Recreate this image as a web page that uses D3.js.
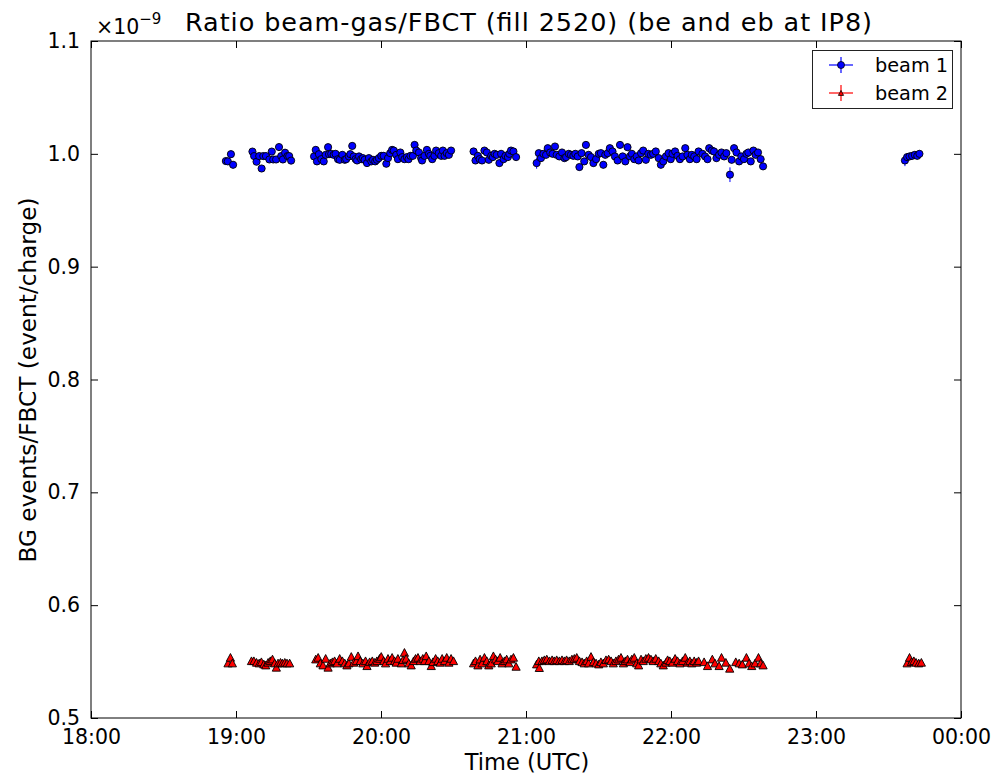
<!DOCTYPE html>
<html>
<head>
<meta charset="utf-8">
<script src="https://cdn.jsdelivr.net/npm/d3@7"></script>
<style>
  body { margin: 0; background: #fff; }
  svg { display: block; font-family: "DejaVu Sans", sans-serif; }
</style>
</head>
<body>
<div id="chart"></div>
<script>
// minutes after 18:00 UTC, ratio in units of 1e-9
const beam1 = [
  [55.8, 0.9936], [56.6, 0.9933], [57.9, 0.9997], [58.8, 0.9903],
  [66.8, 1.002], [67.5, 0.998], [68.5, 0.993], [69.6, 0.998], [70.6, 0.987], [71.3, 0.998],
  [72.4, 0.998], [73.8, 0.995], [74.8, 1.002], [75.4, 0.995], [76.6, 0.995], [77.8, 1.006],
  [78.7, 0.998], [79.4, 0.995], [80.3, 1.001], [81.3, 0.998], [82.0, 0.998], [82.8, 0.994],
  [92.3, 0.9977], [93.0, 1.0035], [93.5, 0.9933], [94.3, 0.9997], [95.3, 0.9953], [96.3, 0.9933],
  [97.1, 0.9991], [98.1, 1.0059], [98.5, 0.9997], [99.4, 1.0], [100.4, 0.9991], [101.2, 1.0],
  [102.2, 0.9953], [102.9, 0.9947], [104.0, 0.9991], [105.0, 0.9947], [105.6, 0.9953], [106.7, 0.9977],
  [107.3, 0.9997], [108.1, 1.007], [108.7, 0.9977], [109.5, 0.9953], [110.1, 0.9941], [110.9, 0.9977],
  [111.8, 0.9953], [112.5, 0.9962], [113.2, 0.9947], [114.2, 0.9918], [115.0, 0.9962], [116.0, 0.9933],
  [116.7, 0.9947], [117.6, 0.9933], [118.3, 0.9947], [119.1, 0.9962], [120.1, 0.9982], [121.1, 0.9982],
  [122.2, 0.9912], [122.9, 0.9962], [123.8, 1.0006], [124.6, 1.0035], [125.3, 1.0029], [126.3, 0.9991],
  [127.0, 0.9953], [128.0, 1.0012], [128.8, 0.9971], [129.7, 0.9953], [130.7, 0.9971], [131.4, 0.9953],
  [132.2, 0.9982], [133.2, 0.9982], [133.9, 1.0079], [134.6, 1.0029], [135.7, 1.0012], [136.6, 0.9962],
  [137.0, 0.9941], [138.0, 0.9982], [139.0, 1.0035], [139.8, 1.0], [140.4, 0.9982], [141.2, 0.9953],
  [142.1, 0.9982], [142.8, 1.0029], [143.9, 1.0006], [144.9, 0.9982], [145.6, 1.0029], [146.3, 0.9982],
  [147.2, 1.0006], [148.1, 0.9991], [149.0, 1.0029],
  [158.3, 1.0021], [159.1, 0.9941], [160.1, 0.9982], [160.8, 0.9953], [161.8, 0.9941], [162.8, 1.0029],
  [163.8, 1.0012], [164.6, 0.9947], [165.6, 0.9982], [166.3, 0.9971], [167.0, 1.0], [167.9, 0.9991],
  [169.0, 0.9918], [169.7, 1.0], [170.7, 0.9953], [171.5, 0.9982], [172.5, 0.9971], [173.1, 1.0],
  [173.8, 1.0029], [174.8, 1.0021], [175.9, 0.9971],
  [184.4, 0.9918], [185.3, 1.0006], [186.2, 0.9962], [187.2, 1.0], [188.3, 0.9991], [189.0, 1.005],
  [190.0, 1.0012], [191.0, 1.0], [192.0, 1.0065], [192.7, 0.9991], [193.8, 0.9977], [194.9, 1.0012],
  [195.9, 0.9962], [196.6, 0.9971], [197.7, 1.0], [198.6, 0.9991], [199.6, 0.9982], [200.4, 1.0],
  [201.4, 0.9977], [202.1, 0.9883], [203.0, 1.0006], [204.1, 0.9933], [204.8, 1.0079], [205.9, 0.9991],
  [206.9, 0.9971], [207.9, 0.9918], [209.0, 0.9953], [210.1, 1.0], [211.0, 1.0006], [212.0, 0.9903],
  [212.8, 0.9991], [213.8, 1.0006], [214.7, 1.005], [215.8, 1.0021], [216.8, 0.9977], [217.9, 0.9941],
  [218.9, 1.0079], [220.0, 0.9977], [221.1, 0.9933], [222.0, 1.0059], [223.0, 0.9977], [223.8, 1.0],
  [224.8, 0.9953], [225.8, 0.9977], [226.6, 0.9941], [227.6, 1.0006], [228.5, 1.0029], [229.6, 0.9947],
  [230.6, 1.0], [231.7, 0.9991], [232.6, 1.0], [233.7, 1.0021], [234.9, 0.9962], [235.8, 0.9903],
  [236.8, 0.9933], [237.9, 0.9977], [239.0, 1.0006], [239.9, 0.9953], [240.6, 1.0], [241.7, 1.0021],
  [242.7, 0.9982], [243.7, 0.9953], [244.8, 0.9977], [245.9, 1.005], [246.8, 0.9991], [247.8, 0.9953],
  [248.6, 0.9991], [249.6, 0.9977], [250.6, 0.9953], [251.4, 1.0021], [253.0, 1.0], [254.1, 0.9977],
  [255.1, 0.9953], [255.8, 1.005], [256.9, 1.0029], [257.8, 1.0021], [258.8, 0.9962], [259.9, 0.9991],
  [260.9, 1.0012], [262.0, 0.9977], [262.9, 1.0006], [264.4, 0.9815], [265.1, 0.9947], [266.1, 1.005],
  [267.1, 1.0012], [268.2, 0.9933], [269.1, 0.9977], [270.2, 0.9953], [271.2, 1.0], [272.0, 1.0012],
  [273.0, 0.9933], [274.1, 1.0029], [275.0, 0.9991], [276.0, 1.0012], [277.1, 0.9953], [278.1, 0.9889],
  [336.8, 0.9941], [337.7, 0.9971], [338.7, 0.9977], [339.8, 0.9982], [340.9, 0.9991], [341.9, 0.9982],
  [342.8, 1.0]
];

const beam2 = [
  [56.7, 0.5486], [57.7, 0.5536], [58.5, 0.5486],
  [66.4, 0.5506], [67.4, 0.5506], [68.5, 0.5492], [69.6, 0.5486], [70.5, 0.5497], [71.5, 0.5477],
  [72.3, 0.5468], [73.3, 0.5492], [74.2, 0.5506], [75.1, 0.5521], [76.0, 0.5486], [76.7, 0.5448],
  [77.4, 0.5486], [78.4, 0.5492], [79.2, 0.5486], [80.2, 0.5492], [81.1, 0.5486], [82.2, 0.5486],
  [93.0, 0.5521], [94.0, 0.5536], [94.9, 0.5486], [96.0, 0.5468], [97.1, 0.5527], [98.1, 0.5448],
  [99.0, 0.5486], [99.9, 0.5497], [100.8, 0.5506], [101.8, 0.5486], [102.9, 0.5527], [104.0, 0.5506],
  [105.0, 0.5486], [105.9, 0.5468], [106.7, 0.5486], [107.7, 0.5544], [108.7, 0.5492], [109.8, 0.5506],
  [110.5, 0.555], [111.4, 0.5506], [112.5, 0.5486], [113.6, 0.5506], [114.2, 0.5462], [115.3, 0.5497],
  [116.4, 0.5506], [117.4, 0.5492], [118.3, 0.5506], [119.4, 0.5527], [120.1, 0.5544], [121.1, 0.5506],
  [121.9, 0.5486], [122.9, 0.5527], [123.8, 0.5506], [124.6, 0.5536], [125.6, 0.5506], [126.3, 0.5492],
  [127.0, 0.5527], [128.4, 0.5486], [129.1, 0.5515], [129.7, 0.558], [130.4, 0.5527], [131.5, 0.5486],
  [132.5, 0.5468], [133.5, 0.5506], [134.3, 0.5527], [135.3, 0.5536], [136.2, 0.5506], [137.3, 0.5527],
  [138.0, 0.5506], [138.7, 0.555], [139.8, 0.5506], [140.8, 0.5462], [141.5, 0.5497], [142.6, 0.5527],
  [143.5, 0.5506], [144.5, 0.5492], [145.3, 0.5527], [146.3, 0.5506], [147.2, 0.5536], [148.1, 0.5492],
  [149.0, 0.5527], [150.0, 0.5506],
  [158.3, 0.5486], [159.1, 0.5506], [160.1, 0.5468], [161.0, 0.5521], [161.8, 0.5486], [162.8, 0.5536],
  [163.8, 0.5506], [164.6, 0.5468], [165.6, 0.5486], [166.5, 0.555], [167.4, 0.5521], [168.3, 0.5506],
  [169.3, 0.5536], [170.1, 0.5486], [171.1, 0.5506], [172.0, 0.5521], [172.9, 0.5486], [173.8, 0.5521],
  [174.8, 0.5536], [175.9, 0.5456],
  [184.4, 0.5477], [185.3, 0.5506], [185.5, 0.5445], [186.6, 0.5506], [187.6, 0.5515], [188.6, 0.5521],
  [189.7, 0.5506], [190.8, 0.5515], [191.7, 0.5506], [192.7, 0.5515], [193.8, 0.5506], [194.9, 0.5515],
  [195.9, 0.5506], [196.8, 0.5515], [197.9, 0.5506], [199.0, 0.5521], [200.0, 0.5527], [201.0, 0.5536],
  [202.1, 0.5506], [203.2, 0.5497], [204.1, 0.5486], [205.1, 0.5506], [205.9, 0.5486], [206.9, 0.5544],
  [207.9, 0.5497], [209.0, 0.5486], [210.1, 0.5477], [211.0, 0.5497], [212.0, 0.5486], [213.1, 0.5515],
  [214.2, 0.5521], [215.2, 0.5506], [216.1, 0.5486], [217.2, 0.5506], [218.3, 0.5521], [219.3, 0.5536],
  [220.3, 0.5486], [221.1, 0.5506], [222.0, 0.5521], [223.0, 0.5497], [223.8, 0.5521], [224.8, 0.5536],
  [225.8, 0.5486], [226.6, 0.5468], [227.6, 0.5521], [228.5, 0.5506], [229.6, 0.5527], [230.7, 0.5536],
  [231.7, 0.5521], [232.6, 0.5506], [233.7, 0.5527], [234.9, 0.5506], [235.8, 0.5486], [236.8, 0.5468],
  [237.9, 0.5492], [238.6, 0.5515], [239.5, 0.5506], [240.6, 0.5492], [241.7, 0.5527], [242.7, 0.5506],
  [243.7, 0.5486], [244.8, 0.5506], [245.9, 0.5536], [246.8, 0.5492], [247.8, 0.5506], [248.6, 0.5486],
  [249.6, 0.5506], [250.6, 0.5492], [251.4, 0.5506], [253.7, 0.5497], [255.1, 0.5462], [257.1, 0.5521],
  [258.2, 0.5486], [259.9, 0.5462], [260.9, 0.5536], [262.7, 0.5492], [264.3, 0.5439], [266.8, 0.5497],
  [268.2, 0.5486], [269.5, 0.5477], [271.2, 0.5536], [272.3, 0.5486], [273.4, 0.5462], [274.8, 0.5486],
  [276.2, 0.5536], [277.1, 0.5486], [278.1, 0.5468],
  [337.7, 0.5486], [338.7, 0.5536], [339.5, 0.5497], [340.5, 0.5506], [341.4, 0.5492], [342.5, 0.5486],
  [343.6, 0.5492]
];

// typical vertical error, plus the few points where the bar sticks out
const beam1Err = 0.003;
const beam2Err = 0.002;
const beam1BigErr = { 184.4: 0.005, 264.4: 0.0065, 336.8: 0.005 };

const yTicks = [0.5, 0.6, 0.7, 0.8, 0.9, 1.0, 1.1];
const title = "Ratio beam-gas/FBCT (fill 2520) (be and eb at IP8)";
const xTitle = "Time (UTC)";
const yTitle = "BG events/FBCT (event/charge)";
const legendLabels = ["beam 1", "beam 2"];

function drawChart() {
  const W = 1000, H = 775;
  const mLeft = 91, mRight = 961, mTop = 41, mBottom = 718;

  const t0 = new Date(Date.UTC(2012, 0, 1, 18, 0));
  const toDate = (m) => new Date(t0.getTime() + m * 60000);

  const x = d3.scaleUtc().domain([t0, toDate(360)]).range([mLeft, mRight]);
  const y = d3.scaleLinear().domain([0.5, 1.1]).range([mBottom, mTop]);

  const svg = d3.select("#chart").append("svg").attr("width", W).attr("height", H);

  // axes, ticks inside on all four sides
  const hours = d3.range(0, 7).map((h) => toDate(h * 60));
  const fmt = d3.utcFormat("%H:%M");

  svg.append("g").attr("transform", `translate(0,${mBottom})`)
    .call(d3.axisBottom(x).tickValues(hours).tickFormat(fmt).tickSize(-7).tickPadding(11));
  svg.append("g").attr("transform", `translate(0,${mTop})`)
    .call(d3.axisTop(x).tickValues(hours).tickFormat("").tickSize(-7));
  svg.append("g").attr("transform", `translate(${mLeft},0)`)
    .call(d3.axisLeft(y).tickValues(yTicks).tickFormat(d3.format(".1f")).tickSize(-7).tickPadding(11));
  svg.append("g").attr("transform", `translate(${mRight},0)`)
    .call(d3.axisRight(y).tickValues(yTicks).tickFormat("").tickSize(-7));

  svg.selectAll(".domain").remove();
  svg.selectAll(".tick line").attr("stroke", "#000");
  svg.selectAll(".tick text").attr("fill", "#000").style("font-size", "20.5px")
    .style("font-family", "DejaVu Sans");

  svg.append("rect")
    .attr("x", mLeft).attr("y", mTop)
    .attr("width", mRight - mLeft).attr("height", mBottom - mTop)
    .attr("fill", "none").attr("stroke", "#000").attr("stroke-width", 1);

  // error bars
  const plot = svg.append("g");
  plot.selectAll(".e1").data(beam1).enter().append("line")
    .attr("x1", (d) => x(toDate(d[0]))).attr("x2", (d) => x(toDate(d[0])))
    .attr("y1", (d) => y(d[1] - (beam1BigErr[d[0]] || beam1Err)))
    .attr("y2", (d) => y(d[1] + (beam1BigErr[d[0]] || beam1Err)))
    .attr("stroke", "blue").attr("stroke-width", 1);
  plot.selectAll(".e2").data(beam2).enter().append("line")
    .attr("x1", (d) => x(toDate(d[0]))).attr("x2", (d) => x(toDate(d[0])))
    .attr("y1", (d) => y(d[1] - beam2Err)).attr("y2", (d) => y(d[1] + beam2Err))
    .attr("stroke", "red").attr("stroke-width", 1);

  // markers
  const tri = "M0,-4L4.1,3.7L-4.1,3.7Z";
  plot.selectAll(".m2").data(beam2).enter().append("path")
    .attr("d", tri)
    .attr("transform", (d) => `translate(${x(toDate(d[0]))},${y(d[1])})`)
    .attr("fill", "red").attr("stroke", "#000").attr("stroke-width", 0.9);
  plot.selectAll(".m1").data(beam1).enter().append("circle")
    .attr("cx", (d) => x(toDate(d[0]))).attr("cy", (d) => y(d[1]))
    .attr("r", 3.6)
    .attr("fill", "blue").attr("stroke", "#000").attr("stroke-width", 0.9);

  // texts
  svg.append("text").attr("x", 185).attr("y", 31)
    .attr("textLength", 687).attr("lengthAdjust", "spacing")
    .style("font-size", "25.5px").text(title);

  const off = svg.append("text").attr("x", 96).attr("y", 34).style("font-size", "20.5px");
  off.append("tspan").text("×10");
  off.append("tspan").attr("dy", -10).style("font-size", "15px").text("−9");

  svg.append("text").attr("x", 527).attr("y", 769.5)
    .attr("text-anchor", "middle").style("font-size", "22.5px").text(xTitle);

  svg.append("text")
    .attr("transform", `translate(36,380) rotate(-90)`)
    .attr("text-anchor", "middle").style("font-size", "23.2px").text(yTitle);

  // legend
  const lg = svg.append("g");
  lg.append("rect").attr("x", 812.5).attr("y", 50.5).attr("width", 140).attr("height", 58)
    .attr("fill", "#fff").attr("stroke", "#222").attr("stroke-width", 1);
  const rows = [
    { label: legendLabels[0], color: "blue", y: 65, shape: "circle" },
    { label: legendLabels[1], color: "red", y: 93, shape: "tri" },
  ];
  rows.forEach((r) => {
    lg.append("line").attr("x1", 829).attr("x2", 853).attr("y1", r.y).attr("y2", r.y)
      .attr("stroke", r.color).attr("stroke-width", 1.2);
    lg.append("line").attr("x1", 841).attr("x2", 841).attr("y1", r.y - 8).attr("y2", r.y + 8)
      .attr("stroke", r.color).attr("stroke-width", 1.2);
    if (r.shape === "circle") {
      lg.append("circle").attr("cx", 841).attr("cy", r.y).attr("r", 3.5)
        .attr("fill", r.color).attr("stroke", "#000").attr("stroke-width", 0.8);
    } else {
      lg.append("path").attr("d", "M0,-2.6L2.6,2.4L-2.6,2.4Z")
        .attr("transform", `translate(841,${r.y})`)
        .attr("fill", r.color).attr("stroke", "#000").attr("stroke-width", 0.8);
    }
    lg.append("text").attr("x", 875).attr("y", r.y + 6.5).style("font-size", "19.3px").text(r.label);
  });
}

document.addEventListener("DOMContentLoaded", drawChart);
</script>
</body>
</html>
